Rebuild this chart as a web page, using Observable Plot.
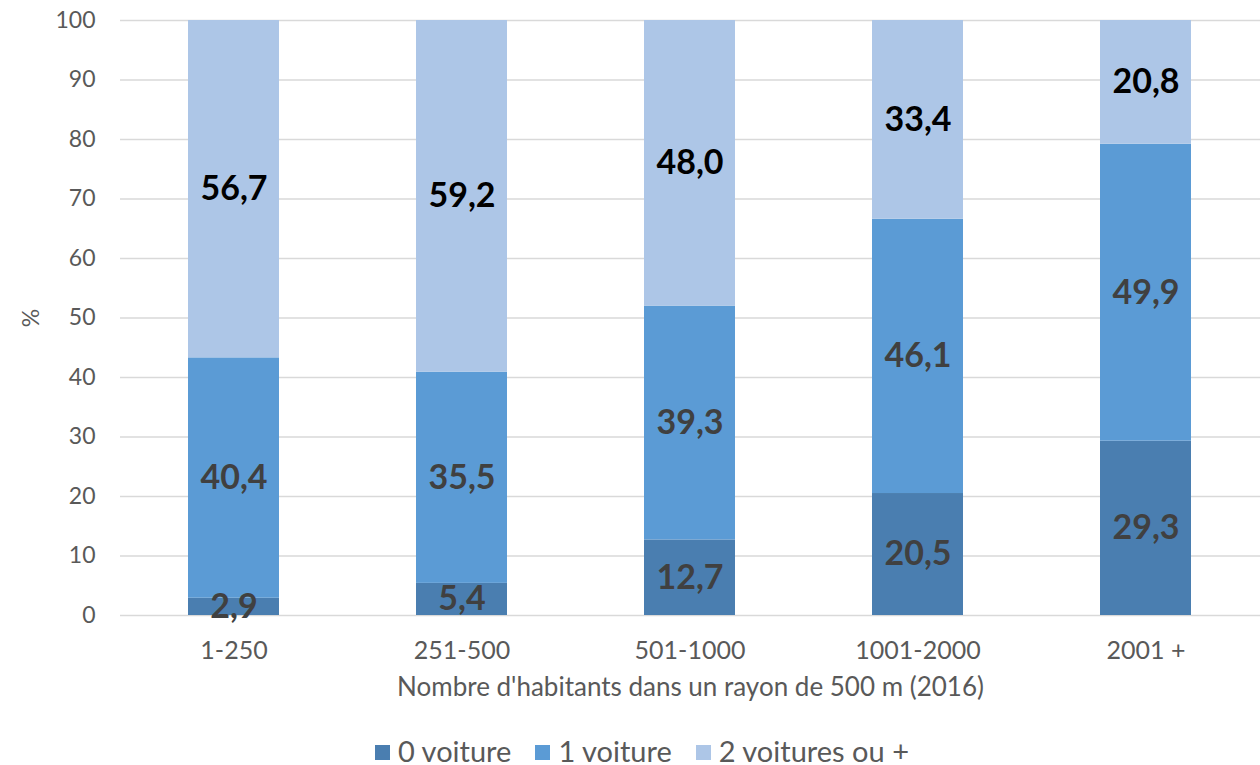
<!DOCTYPE html>
<html>
<head>
<meta charset="utf-8">
<script src="https://cdn.jsdelivr.net/npm/d3@7"></script>
<script src="https://cdn.jsdelivr.net/npm/@observablehq/plot@0.6"></script>
<style>
  body { margin: 0; background: #fff; font-family: Lato, "Open Sans", sans-serif; }
  #legend { display: flex; justify-content: center; gap: 24px; font-size: 29px; color: #595959; height: 30px; align-items: center; padding-left: 24px; }
  #legend span.sw { display: inline-block; width: 15px; height: 15px; margin-right: 8px; vertical-align: middle; position: relative; top: -2px; }
</style>
</head>
<body>
<div id="chart"></div>
<div id="legend"></div>
<script>
const categories = ["1-250", "251-500", "501-1000", "1001-2000", "2001 +"];
const seriesNames = ["0 voiture", "1 voiture", "2 voitures ou +"];
const zeroCar = [2.9, 5.4, 12.7, 20.5, 29.3];
const oneCar = [40.4, 35.5, 39.3, 46.1, 49.9];
const twoPlusCars = [56.7, 59.2, 48.0, 33.4, 20.8];
const colors = ["#4a7eb0", "#5b9bd5", "#adc6e7"];
const yTicks = [0, 10, 20, 30, 40, 50, 60, 70, 80, 90, 100];

const seriesValues = [zeroCar, oneCar, twoPlusCars];
const data = [];
seriesNames.forEach((s, i) => categories.forEach((c, j) => data.push({cat: c, series: s, value: seriesValues[i][j]})));
const fmt = v => v.toFixed(1).replace(".", ",");

const chart = Plot.plot({
  width: 1260,
  height: 735,
  marginLeft: 120,
  marginRight: 0,
  marginTop: 20,
  marginBottom: 120,
  style: {fontFamily: "Lato, 'Open Sans', sans-serif", background: "#fff"},
  x: {domain: categories, paddingInner: 0.6, paddingOuter: 0.3, axis: null},
  y: {domain: [0, 100], clamp: true, axis: null},
  color: {domain: seriesNames, range: colors},
  marks: [
    Plot.gridY(yTicks, {stroke: "#d9d9d9", strokeOpacity: 1, strokeWidth: 1.5}),
    Plot.barY(data, {x: "cat", y: "value", fill: "series", z: "series"}),
    Plot.text(data, Plot.stackY({x: "cat", y: "value", z: "series",
      text: d => d.series === seriesNames[2] ? fmt(d.value) : "",
      fill: "#000", fontSize: 34, fontWeight: "bold"})),
    Plot.text(data, Plot.stackY({x: "cat", y: "value", z: "series",
      text: d => d.series !== seriesNames[2] ? fmt(d.value) : "",
      fill: "#404040", fontSize: 34, fontWeight: "bold"})),
    Plot.axisX({tickSize: 0, tickPadding: 26, fontSize: 25, color: "#595959", tickFormat: d => d, label: null}),
    Plot.axisX({tickSize: 0, ticks: [], fontSize: 26, color: "#595959",
      label: "Nombre d'habitants dans un rayon de 500 m (2016)", labelAnchor: "center", labelOffset: 80, labelArrow: "none"}),
    Plot.axisY(yTicks, {tickSize: 0, tickPadding: 25, fontSize: 23, color: "#595959",
      label: "%", labelAnchor: "center", labelOffset: 98, labelArrow: "none"})
  ]
});
document.getElementById("chart").appendChild(chart);

const legend = document.getElementById("legend");
seriesNames.forEach((s, i) => {
  const item = document.createElement("div");
  item.innerHTML = `<span class="sw" style="background:${colors[i]}"></span>${s}`;
  legend.appendChild(item);
});
</script>
</body>
</html>
